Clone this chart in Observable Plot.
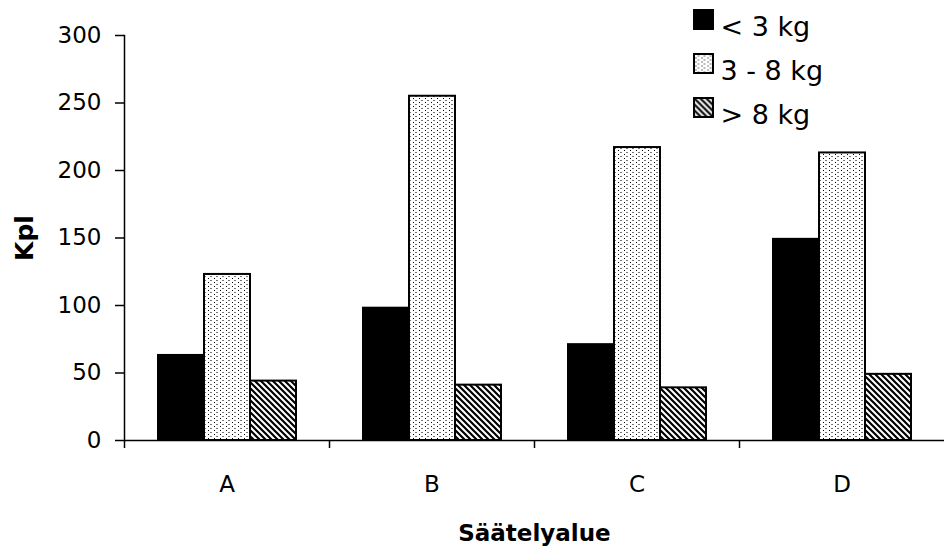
<!DOCTYPE html>
<html>
<head>
<meta charset="utf-8">
<script src="https://cdn.jsdelivr.net/npm/d3@7"></script>
<script src="https://cdn.jsdelivr.net/npm/@observablehq/plot@0.6"></script>
<style>
  html, body { margin: 0; padding: 0; background: #fff; }
  g[aria-label="y-axis label"], g[aria-label="fx-axis label"] { font-weight: bold; }
  g[aria-label="y-axis label"], g[aria-label="y-axis label"] text { font-size: 25px !important; }
</style>
</head>
<body>
<div id="chart"></div>
<script>
const groups = ["A", "B", "C", "D"];
const series = ["< 3 kg", "3 - 8 kg", "> 8 kg"];
const under3 = [63, 98, 71, 149];
const from3to8 = [123, 255, 217, 213];
const over8 = [44, 41, 39, 49];
const yTicks = [0, 50, 100, 150, 200, 250, 300];
const fills = ["black", "url(#dots)", "url(#hatch)"];

const valuesBySeries = [under3, from3to8, over8];
const data = groups.flatMap((g, i) =>
  series.map((s, j) => ({group: g, series: s, value: valuesBySeries[j][i]}))
);

const W = 944, H = 547, mL = 124, mR = 0, mT = 35, mB = 107;
const facetStep = (W - mL - mR) / groups.length;
const lastGroup = groups[groups.length - 1];

const legendMarks = series.flatMap((s, i) => [
  Plot.dot([s], {
    fx: () => lastGroup,
    frameAnchor: "top-left",
    dx: -36, dy: -16 + 44 * i,
    symbol: "square", r: 10.7,
    fill: d => d, stroke: "black", strokeWidth: 2
  }),
  Plot.text([s], {
    fx: () => lastGroup,
    frameAnchor: "top-left",
    dx: -19, dy: -19 + 44 * i,
    text: d => d, textAnchor: "start",
    fontSize: 27, fill: "black"
  })
]);

const plot = Plot.plot({
  width: W, height: H,
  marginLeft: mL, marginRight: mR, marginTop: mT, marginBottom: mB,
  style: {fontFamily: "'DejaVu Sans', sans-serif", fontSize: "23px", color: "black", background: "white"},
  fx: {domain: groups, padding: 0},
  x: {domain: series, paddingInner: 0, paddingOuter: 0.7, axis: null},
  y: {domain: [0, 300]},
  color: {domain: series, range: fills},
  marks: [
    Plot.barY(data, {fx: "group", x: "series", y: "value", fill: "series", stroke: "black", strokeWidth: 2}),
    Plot.ruleY([0], {stroke: "black", strokeWidth: 1.5}),
    Plot.frame({anchor: "left", facetAnchor: "left", stroke: "black", strokeWidth: 1.5}),
    Plot.axisY({ticks: yTicks, tickSize: 9, tickPadding: 14, fontSize: 23, label: "Kpl", labelAnchor: "center", labelOffset: 109, labelArrow: "none", strokeWidth: 1.5}),
    Plot.axisFx({anchor: "bottom", tickSize: 0, tickPadding: 35, fontSize: 23, label: "Säätelyalue", labelAnchor: "center", labelOffset: 100, labelArrow: "none"}),
    Plot.axisFx({anchor: "bottom", tickSize: 8, tickFormat: () => "", label: null, dx: -facetStep / 2, strokeWidth: 1.5}),
    ...legendMarks
  ]
});

const defs = d3.select(plot).insert("defs", ":first-child");
const dots = defs.append("pattern").attr("id", "dots").attr("patternUnits", "userSpaceOnUse").attr("width", 6).attr("height", 4);
dots.append("rect").attr("width", 6).attr("height", 4).attr("fill", "white");
dots.append("rect").attr("x", 0).attr("y", 0).attr("width", 2).attr("height", 1).attr("fill", "#777");
dots.append("rect").attr("x", 4).attr("y", 2).attr("width", 1).attr("height", 1).attr("fill", "#000");
const hatch = defs.append("pattern").attr("id", "hatch").attr("patternUnits", "userSpaceOnUse").attr("width", 6).attr("height", 6);
hatch.append("rect").attr("width", 6).attr("height", 6).attr("fill", "white");
hatch.append("path").attr("d", "M-1,-1L7,7M-1,5L1,7M5,-1L7,1").attr("stroke", "black").attr("stroke-width", 2.2);

document.getElementById("chart").appendChild(plot);
</script>
</body>
</html>
